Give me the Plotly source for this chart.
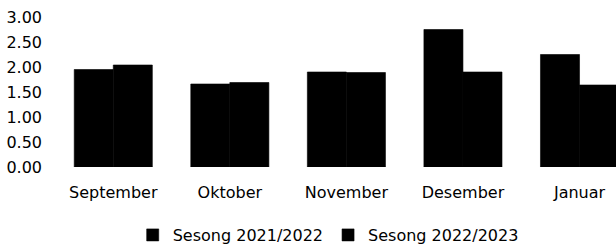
import plotly.graph_objects as go

months = ["September", "Oktober", "November", "Desember", "Januar"]
season_2122 = [1.95, 1.66, 1.90, 2.75, 2.25]
season_2223 = [2.04, 1.69, 1.89, 1.90, 1.64]
series_names = ["Sesong 2021/2022", "Sesong 2022/2023"]
y_ticks = [0, 0.5, 1.0, 1.5, 2.0, 2.5, 3.0]

fig = go.Figure()
fig.add_trace(go.Bar(x=months, y=season_2122, name=series_names[0],
                     marker=dict(color="black", line=dict(width=0.6, color="black"))))
fig.add_trace(go.Bar(x=months, y=season_2223, name=series_names[1],
                     marker=dict(color="black", line=dict(width=0.6, color="black"))))

fig.update_layout(
    width=616, height=248,
    margin=dict(l=55, r=0, t=17, b=81, autoexpand=False),
    barmode="group", bargap=0.33, bargroupgap=0,
    plot_bgcolor="white", paper_bgcolor="white",
    font=dict(family="DejaVu Sans", size=16, color="black"),
    showlegend=True,
    legend=dict(orientation="h", x=0.487, xanchor="center", y=-0.34, yanchor="top",
                font=dict(size=16), itemwidth=30),
    xaxis=dict(range=[-0.5, 4.313], showgrid=False, showline=False, ticks="",
               tickfont=dict(size=16), automargin=False, ticklabelstandoff=14),
    yaxis=dict(range=[0, 3], tickvals=y_ticks, tickformat=".2f", showgrid=False,
               zeroline=False, showline=False, ticks="", ticklabelstandoff=12,
               tickfont=dict(size=16), automargin=False),
)

fig.write_html("out.html", config={"displayModeBar": False},
               post_script="document.body.style.margin='0';document.body.style.overflow='hidden';")
